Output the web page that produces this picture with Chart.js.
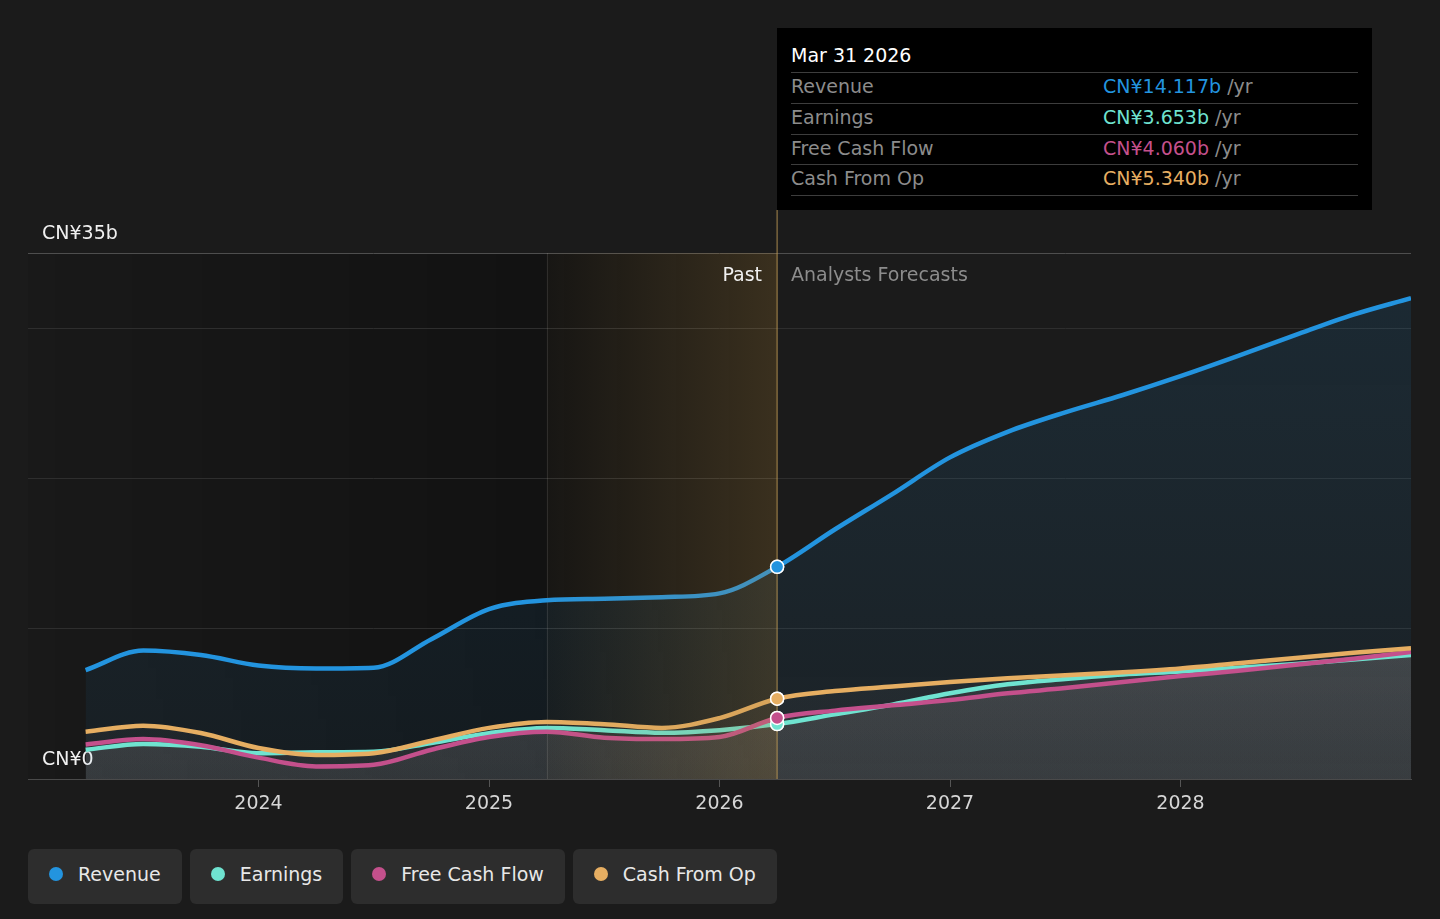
<!DOCTYPE html>
<html>
<head>
<meta charset="utf-8">
<script src="https://cdn.jsdelivr.net/npm/chart.js@4/dist/chart.umd.min.js"></script>
<style>
  html, body { margin: 0; padding: 0; background: #1b1b1b; }
  body { width: 1440px; height: 919px; position: relative; overflow: hidden; font-family: "DejaVu Sans", sans-serif; }
  #wrap { position: absolute; left: 0; top: 0; width: 1440px; height: 830px; }
  .tip { position: absolute; left: 777px; top: 28px; width: 595px; height: 182px; background: #000; }
  .tip .title { position: absolute; left: 14px; top: 16px; font-size: 19px; line-height: 22px; color: #fff; }
  .tip .row { position: absolute; left: 14px; width: 567px; height: 30px; border-top: 1px solid #3d3d3d; font-size: 19px; line-height: 26px; color: #8c8c8c; }
  .tip .row.last { border-bottom: 1px solid #3d3d3d; }
  .tip .val { position: absolute; left: 312px; top: 0; }
  .tag { position: absolute; top: 262px; font-size: 19px; line-height: 24px; }
  .legend { position: absolute; left: 28px; top: 849px; display: flex; gap: 8px; }
  .legend .item { height: 55px; box-sizing: border-box; padding: 0 21px 6px 21px; background: #2d2d2d; border-radius: 6px; display: flex; align-items: center; gap: 15px; font-size: 19px; color: #e8e8e8; }
  .legend .dot { width: 14px; height: 14px; border-radius: 50%; }
</style>
</head>
<body>
<div id="wrap"><canvas id="chart"></canvas></div>

<div class="tag" style="right: 678px; color: #f0f0f0;">Past</div>
<div class="tag" style="left: 791px; color: #8c8c8c;">Analysts Forecasts</div>

<div class="tip" id="tip"></div>
<div class="legend" id="legend"></div>

<script>
// decimal years, quarter ends (Mar 2023 .. Dec 2028)
const quarters = [2023.25, 2023.5, 2023.75, 2024.0, 2024.25, 2024.5, 2024.75, 2025.0, 2025.25, 2025.5, 2025.75, 2026.0,
  2026.25, 2026.5, 2026.75, 2027.0, 2027.25, 2027.5, 2027.75, 2028.0, 2028.25, 2028.5, 2028.75, 2029.0];

// CN¥ billions per year
const revenue = [7.25, 8.55, 8.25, 7.55, 7.35, 7.4, 9.3, 11.3, 11.9, 12.0, 12.1, 12.35,
  14.117, 16.6, 18.96, 21.4, 23.1, 24.4, 25.55, 26.8, 28.15, 29.55, 30.9, 32.0];
const earnings = [1.95, 2.33, 2.15, 1.72, 1.78, 1.82, 2.4, 3.05, 3.4, 3.25, 3.08, 3.25,
  3.653, 4.3, 4.95, 5.7, 6.3, 6.65, 6.95, 7.15, 7.4, 7.65, 7.95, 8.25];
const freeCashFlow = [2.3, 2.66, 2.25, 1.42, 0.84, 0.95, 1.95, 2.8, 3.15, 2.75, 2.66, 2.8,
  4.06, 4.55, 4.9, 5.25, 5.7, 6.05, 6.45, 6.85, 7.2, 7.6, 8.0, 8.45];
const cashFromOp = [3.15, 3.55, 3.06, 2.06, 1.6, 1.72, 2.55, 3.4, 3.8, 3.65, 3.4, 4.05,
  5.34, 5.85, 6.15, 6.45, 6.7, 6.9, 7.1, 7.35, 7.7, 8.05, 8.4, 8.7];

const yearTicks = [2024, 2025, 2026, 2027, 2028];
const pastStart = 2025.25;
const now = 2026.25;
const nowIndex = quarters.indexOf(now);

const series = [
  { name: "Revenue", values: revenue, color: "#2394df", text: "CN¥14.117b" },
  { name: "Earnings", values: earnings, color: "#6fe3d0", text: "CN¥3.653b" },
  { name: "Free Cash Flow", values: freeCashFlow, color: "#c4508c", text: "CN¥4.060b" },
  { name: "Cash From Op", values: cashFromOp, color: "#e6ae62", text: "CN¥5.340b" }
];

const font = "DejaVu Sans";

// tooltip + legend as html
const tip = document.getElementById('tip');
tip.innerHTML = '<div class="title">Mar 31 2026</div>' + series.map((s, i) =>
  `<div class="row${i === series.length - 1 ? ' last' : ''}" style="top:${44 + i * 30.8}px">${s.name}` +
  `<span class="val"><span style="color:${s.color}">${s.text}</span> /yr</span></div>`).join('');
document.getElementById('legend').innerHTML = series.map(s =>
  `<div class="item"><span class="dot" style="background:${s.color}"></span>${s.name}</div>`).join('');

const vGradient = (stops) => (context) => {
  const area = context.chart.chartArea;
  if (!area) return stops[1];
  const g = context.chart.ctx.createLinearGradient(0, area.top, 0, area.bottom);
  g.addColorStop(0, stops[0]);
  g.addColorStop(1, stops[1]);
  return g;
};

const fills = [
  vGradient(["rgba(35,148,223,0.13)", "rgba(35,148,223,0.06)"]),
  vGradient(["rgba(255,240,235,0.14)", "rgba(255,240,235,0.05)"]),
  vGradient(["rgba(255,240,235,0.12)", "rgba(255,240,235,0.05)"]),
  vGradient(["rgba(255,240,235,0.06)", "rgba(255,240,235,0.03)"])
];

const bandPlugin = {
  id: 'band',
  beforeDraw(chart) {
    const { ctx, chartArea: a, scales: { x } } = chart;
    const x1 = x.getPixelForValue(pastStart);
    const x2 = x.getPixelForValue(now);
    ctx.save();
    let g = ctx.createLinearGradient(a.left, 0, x1, 0);
    g.addColorStop(0, "rgba(0,0,0,0.06)");
    g.addColorStop(1, "rgba(0,0,0,0.32)");
    ctx.fillStyle = g;
    ctx.fillRect(a.left, a.top, x1 - a.left, a.bottom - a.top);
    ctx.fillStyle = "rgba(0,0,0,0.3)";
    ctx.fillRect(x1, a.top, x2 - x1, a.bottom - a.top);
    ctx.restore();
  },
  beforeDatasetsDraw(chart) {
    const { ctx, chartArea: a, scales: { x } } = chart;
    const x1 = Math.round(x.getPixelForValue(pastStart)) + 0.5;
    ctx.save();
    ctx.lineWidth = 1;
    ctx.strokeStyle = "rgba(255,255,255,0.1)";
    ctx.beginPath(); ctx.moveTo(x1, a.top); ctx.lineTo(x1, a.bottom); ctx.stroke();
    ctx.restore();
  },
  afterDatasetsDraw(chart) {
    const { ctx, chartArea: a, scales: { x } } = chart;
    const x1 = x.getPixelForValue(pastStart);
    const x2 = x.getPixelForValue(now);
    ctx.save();
    let g = ctx.createLinearGradient(x1, 0, x2, 0);
    g.addColorStop(0, "rgba(175,135,65,0.03)");
    g.addColorStop(1, "rgba(175,135,65,0.25)");
    ctx.fillStyle = g;
    ctx.fillRect(x1, a.top, x2 - x1, a.bottom - a.top);
    ctx.lineWidth = 1.5;
    ctx.strokeStyle = "rgba(200,160,90,0.55)";
    ctx.beginPath(); ctx.moveTo(x2, 210); ctx.lineTo(x2, a.bottom); ctx.stroke();
    // current-date markers back on top of the band
    chart.data.datasets.forEach((d, i) => {
      const pt = chart.getDatasetMeta(i).data[nowIndex];
      if (pt) pt.draw(ctx, a);
    });
    ctx.restore();
  }
};

new Chart(document.getElementById('chart'), {
  type: 'line',
  data: {
    datasets: series.map((s, i) => ({
      label: s.name,
      data: quarters.map((q, j) => ({ x: q, y: s.values[j] })),
      borderColor: s.color,
      borderWidth: 4.5,
      backgroundColor: fills[i],
      fill: 'origin',
      order: 4 - i,
      cubicInterpolationMode: 'monotone',
      pointRadius: (c) => c.dataIndex === nowIndex ? 6.5 : 0,
      pointHoverRadius: 0,
      pointBackgroundColor: s.color,
      pointBorderColor: "#ffffff",
      pointBorderWidth: 1.5
    }))
  },
  options: {
    responsive: true,
    maintainAspectRatio: false,
    animation: false,
    events: [],
    layout: { padding: { left: 28, right: 29, top: 253, bottom: 0 } },
    plugins: {
      legend: { display: false },
      tooltip: { enabled: false },
      filler: { drawTime: 'beforeDatasetsDraw' }
    },
    scales: {
      x: {
        type: 'linear',
        min: 2023,
        max: 2029,
        afterFit: (scale) => { scale.height = 51; },
        afterBuildTicks: (scale) => { scale.ticks = yearTicks.map(v => ({ value: v })); },
        ticks: {
          color: "#d6d6d6",
          font: { family: font, size: 19 },
          padding: 6,
          maxRotation: 0,
          callback: (v) => String(v)
        },
        grid: { drawOnChartArea: false, drawTicks: true, tickLength: 8, color: "#555555" },
        border: { display: true, color: "#4a4a4a", width: 1 }
      },
      y: {
        min: 0,
        max: 35,
        z: 1,
        afterFit: (scale) => { scale.width = 0; },
        ticks: {
          stepSize: 10,
          mirror: true,
          padding: 14,
          labelOffset: -19,
          color: "#f0f0f0",
          font: { family: font, size: 19 },
          callback: (v) => (v === 0 ? "CN¥0" : v === 35 ? "CN¥35b" : "")
        },
        grid: {
          drawTicks: false,
          color: (c) => c.tick.value === 0 ? "rgba(0,0,0,0)" : c.tick.value === 35 ? "#4e4e4e" : "#2e2e2e"
        },
        border: { display: false }
      }
    }
  },
  plugins: [bandPlugin]
});
</script>
</body>
</html>
